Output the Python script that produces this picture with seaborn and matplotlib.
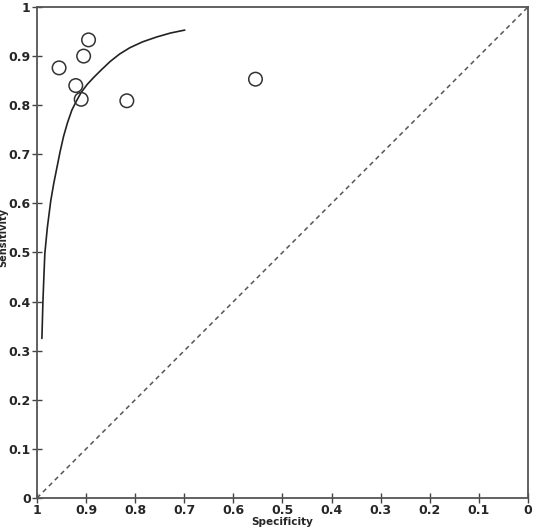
import numpy as np
import pandas as pd
import seaborn as sns
import matplotlib.pyplot as plt

# study points (specificity, sensitivity)
study_spec = [0.955, 0.921, 0.910, 0.905, 0.895, 0.817, 0.555]
study_sens = [0.876, 0.840, 0.812, 0.900, 0.933, 0.809, 0.853]

# SROC curve
curve_spec = [0.990, 0.989, 0.988, 0.986, 0.984, 0.979, 0.972, 0.966,
              0.960, 0.953, 0.946, 0.938, 0.929, 0.920, 0.910, 0.898,
              0.885, 0.870, 0.851, 0.832, 0.811, 0.785, 0.756, 0.728, 0.699]
curve_sens = [0.325, 0.360, 0.397, 0.450, 0.498, 0.550, 0.605, 0.640,
              0.670, 0.705, 0.736, 0.764, 0.790, 0.808, 0.826, 0.842,
              0.856, 0.871, 0.889, 0.904, 0.917, 0.929, 0.939, 0.947, 0.953]

ticks = [0, 0.1, 0.2, 0.3, 0.4, 0.5, 0.6, 0.7, 0.8, 0.9, 1]
tick_labels = ['0', '0.1', '0.2', '0.3', '0.4', '0.5', '0.6', '0.7', '0.8', '0.9', '1']

sns.set_style('white')
plt.rcParams['font.family'] = ['DejaVu Sans']

fig = plt.figure(figsize=(5.33, 5.30), dpi=100)
ax = fig.add_axes([0.0694, 0.0604, 0.9212, 0.9264])

# chance line
ax.plot([1, 0], [0, 1], ls=(0, (3, 2.5)), color='#555555', lw=1.1)

curve = pd.DataFrame({'spec': curve_spec, 'sens': curve_sens})
sns.lineplot(data=curve, x='spec', y='sens', sort=False, estimator=None,
             color='#222222', lw=1.2, ax=ax)

studies = pd.DataFrame({'spec': study_spec, 'sens': study_sens})
sns.scatterplot(data=studies, x='spec', y='sens', marker='o', s=95,
                facecolor='none', edgecolor='#333333', linewidth=1.1,
                ax=ax, zorder=3)

ax.set_xlim(1, 0)
ax.set_ylim(0, 1)
ax.set_xticks(ticks)
ax.set_xticklabels(tick_labels)
ax.set_yticks(ticks)
ax.set_yticklabels(tick_labels)
ax.tick_params(direction='inout', length=7, width=1, color='#444444',
               labelsize=9, pad=1, bottom=True, left=True)
for lab in ax.get_xticklabels() + ax.get_yticklabels():
    lab.set_fontweight('bold')
for sp in ax.spines.values():
    sp.set_color('#555555')
    sp.set_linewidth(1.3)

ax.set_xlabel('Specificity', fontsize=7.5, fontweight='bold', labelpad=0)
ax.set_ylabel('Sensitivity', fontsize=7, fontweight='bold')
ax.yaxis.set_label_coords(-0.058, 0.53)

fig.savefig('out.png', dpi=100)
